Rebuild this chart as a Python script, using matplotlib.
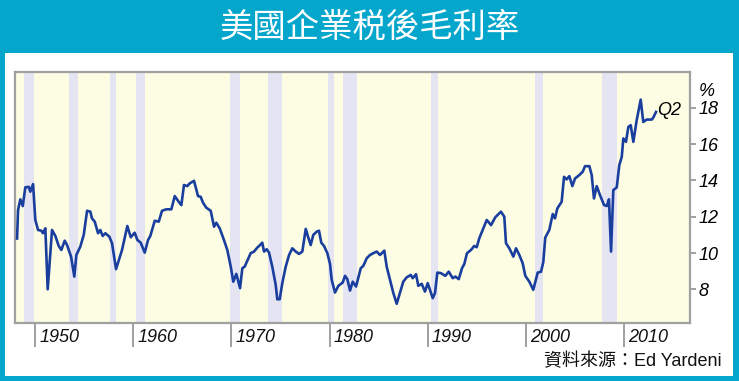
import matplotlib
matplotlib.use('Agg')
import matplotlib.pyplot as plt
from matplotlib.patches import Rectangle
from matplotlib.transforms import blended_transform_factory, ScaledTranslation

# ---- data ----
years = [1948.17, 1948.27, 1948.50, 1948.75, 1949.01, 1949.36, 1949.52, 1949.80, 1950.03, 1950.31,
         1950.64, 1950.81, 1951.05, 1951.29, 1951.73, 1952.07, 1952.41, 1952.68, 1953.02, 1953.26,
         1953.67, 1954.00, 1954.21, 1954.61, 1954.96, 1955.30, 1955.63, 1955.80, 1956.08, 1956.42,
         1956.65, 1956.89, 1957.16, 1957.57, 1957.84, 1958.25, 1958.86, 1959.40, 1959.75, 1960.15,
         1960.42, 1960.76, 1961.17, 1961.51, 1961.74, 1962.19, 1962.60, 1962.93, 1963.37, 1963.88,
         1964.23, 1964.56, 1964.90, 1965.17, 1965.51, 1965.75, 1966.19, 1966.60, 1966.87, 1967.11,
         1967.44, 1967.89, 1968.23, 1968.46, 1968.81, 1969.25, 1969.58, 1969.93, 1970.19, 1970.50,
         1970.88, 1971.11, 1971.35, 1971.69, 1971.96, 1972.30, 1972.64, 1972.91, 1973.14, 1973.32,
         1973.59, 1973.83, 1974.16, 1974.51, 1974.67, 1974.92, 1975.18, 1975.53, 1975.87, 1976.20,
         1976.55, 1976.88, 1977.22, 1977.57, 1977.80, 1978.07, 1978.34, 1978.69, 1978.92, 1979.15,
         1979.43, 1979.77, 1980.04, 1980.21, 1980.55, 1980.89, 1981.33, 1981.57, 1981.80, 1982.08,
         1982.35, 1982.69, 1983.17, 1983.43, 1983.78, 1984.11, 1984.45, 1984.80, 1985.13, 1985.57,
         1985.81, 1986.15, 1986.49, 1986.83, 1987.10, 1987.50, 1987.85, 1988.26, 1988.46, 1988.80,
         1989.03, 1989.38, 1989.71, 1989.99, 1990.50, 1990.73, 1990.97, 1991.34, 1991.78, 1992.13,
         1992.54, 1992.80, 1993.15, 1993.48, 1993.72, 1993.99, 1994.40, 1994.73, 1994.98, 1995.24,
         1995.59, 1996.00, 1996.44, 1996.87, 1997.45, 1997.79, 1997.96, 1998.30, 1998.71, 1998.98,
         1999.32, 1999.66, 1999.93, 2000.34, 2000.74, 2001.19, 2001.53, 2001.76, 2001.96, 2002.37,
         2002.72, 2002.95, 2003.19, 2003.63, 2003.87, 2004.14, 2004.41, 2004.72, 2004.99, 2005.43,
         2005.77, 2006.01, 2006.45, 2006.69, 2006.92, 2007.20, 2007.53, 2007.94, 2008.22, 2008.45,
         2008.66, 2008.89, 2009.24, 2009.50, 2009.75, 2009.91, 2010.18, 2010.42, 2010.66, 2010.93,
         2011.27, 2011.68, 2011.94, 2012.29, 2012.80, 2012.96, 2013.24]
margin = [10.80, 12.36, 12.96, 12.59, 13.62, 13.65, 13.38, 13.80, 11.82, 11.27,
          11.23, 11.09, 11.36, 8.00, 11.27, 10.94, 10.39, 10.17, 10.68, 10.44,
          9.80, 8.70, 9.89, 10.35, 11.00, 12.33, 12.28, 11.91, 11.73, 11.09,
          11.27, 10.94, 11.09, 10.90, 10.54, 9.11, 10.17, 11.49, 10.87, 11.12,
          10.72, 10.57, 10.02, 10.72, 10.94, 11.78, 11.73, 12.33, 12.41, 12.41,
          13.14, 12.88, 12.64, 13.75, 13.69, 13.84, 13.98, 13.14, 13.10, 12.77,
          12.50, 12.33, 11.45, 11.67, 11.36, 10.70, 10.17, 9.25, 8.42, 8.85,
          8.06, 9.16, 9.25, 9.66, 9.99, 10.08, 10.30, 10.44, 10.57, 10.08,
          10.21, 10.02, 9.25, 8.24, 7.45, 7.45, 8.34, 9.25, 9.89, 10.26,
          10.08, 9.95, 10.08, 11.33, 10.90, 10.44, 11.00, 11.18, 11.23, 10.57,
          10.39, 9.99, 9.40, 8.52, 7.82, 8.19, 8.37, 8.74, 8.56, 7.93,
          8.42, 8.15, 9.16, 9.29, 9.71, 9.89, 9.99, 10.08, 9.89, 10.13,
          9.25, 8.52, 7.79, 7.20, 7.69, 8.42, 8.66, 8.79, 8.61, 8.83,
          8.19, 8.30, 7.87, 8.34, 7.51, 7.79, 8.92, 8.89, 8.74, 8.97,
          8.61, 8.70, 8.56, 9.16, 9.40, 9.99, 10.17, 10.39, 10.32, 10.81,
          11.27, 11.82, 11.54, 11.97, 12.28, 12.00, 10.54, 10.26, 9.80, 10.26,
          9.89, 9.44, 8.74, 8.42, 7.97, 8.92, 8.97, 9.50, 10.85, 11.27,
          12.15, 11.91, 12.46, 12.83, 14.20, 14.06, 14.24, 13.69, 14.11, 14.30,
          14.48, 14.79, 14.79, 14.30, 13.01, 13.69, 13.20, 12.65, 12.59, 12.96,
          10.08, 13.47, 13.62, 14.85, 15.30, 16.32, 16.13, 16.95, 17.05, 16.13,
          17.32, 18.46, 17.23, 17.36, 17.36, 17.47, 17.78]

rec_start = [1948.88, 1953.46, 1957.64, 1960.29, 1969.86, 1973.76, 1979.81, 1981.33, 1990.33, 2000.92, 2007.71]
rec_end = [1949.93, 1954.35, 1958.28, 1961.17, 1970.88, 1975.12, 1980.45, 1982.76, 1991.04, 2001.70, 2009.24]

decades = [1950, 1960, 1970, 1980, 1990, 2000, 2010]
yticks = [8, 10, 12, 14, 16, 18]

title = '美國企業税後毛利率'
source = '資料來源：Ed Yardeni'

W, H = 739, 381
fig = plt.figure(figsize=(W / 100, H / 100), dpi=100)
fig.patch.set_facecolor('#05A6CC')
fig.add_artist(Rectangle((5 / W, 5 / H), 728 / W, 323 / H, transform=fig.transFigure,
                         facecolor='white', edgecolor='none', zorder=0))

fig.text(0.5, 1 - 27 / H, title, color='white', fontsize=24, ha='center', va='center',
         family=['Noto Sans CJK TC', 'DejaVu Sans'])

ax = fig.add_axes([15 / W, 58 / H, 675 / W, 251.3 / H])
ax.set_facecolor('#FCFDE3')
for s, e in zip(rec_start, rec_end):
    ax.axvspan(s, e, color='#E4E4F3', lw=0, zorder=1)
ax.plot(years, margin, color='#1A3E9E', lw=1.9, zorder=3, solid_joinstyle='round')

ax.set_xlim(1947.96, 2016.70)
ax.set_ylim(6.14, 20.0)

for sp in ax.spines.values():
    sp.set_color('#A0A0A0')
    sp.set_linewidth(1.6)

ax.yaxis.tick_right()
ax.set_yticks(yticks)
ax.set_yticklabels([str(v) for v in yticks])
ax.tick_params(axis='y', direction='out', length=4, width=1.4, color='#A0A0A0',
               labelsize=13, pad=2)
for lab in ax.get_yticklabels():
    lab.set_fontstyle('italic')
    lab.set_family('Liberation Sans')

ax.set_xticks(decades)
ax.set_xticklabels([''] * len(decades))
ax.tick_params(axis='x', direction='out', length=17.3, width=1.4, color='#A0A0A0')

trans = blended_transform_factory(ax.transData, ax.transAxes) + \
    ScaledTranslation(0.04, -0.14, fig.dpi_scale_trans)
for d in decades:
    ax.text(d, 0, str(d), transform=trans, ha='left', va='center', fontsize=13,
            fontstyle='italic', family='Liberation Sans', color='#111111')

ax.text(1.0247, 0.92, '%', transform=ax.transAxes, ha='center', va='center', fontsize=13,
        fontstyle='italic', family='Liberation Sans', clip_on=False)
ax.text(2013.4, 17.87, 'Q2', ha='left', va='center', fontsize=13, fontstyle='italic',
        family='Liberation Sans', zorder=4, clip_on=False)

fig.text(722 / W, 1 - 362 / H, source, ha='right', va='center', fontsize=13,
         family=['Liberation Sans', 'Noto Sans CJK TC'], color='#111111')

fig.savefig('out.png', dpi=100, facecolor=fig.get_facecolor())
